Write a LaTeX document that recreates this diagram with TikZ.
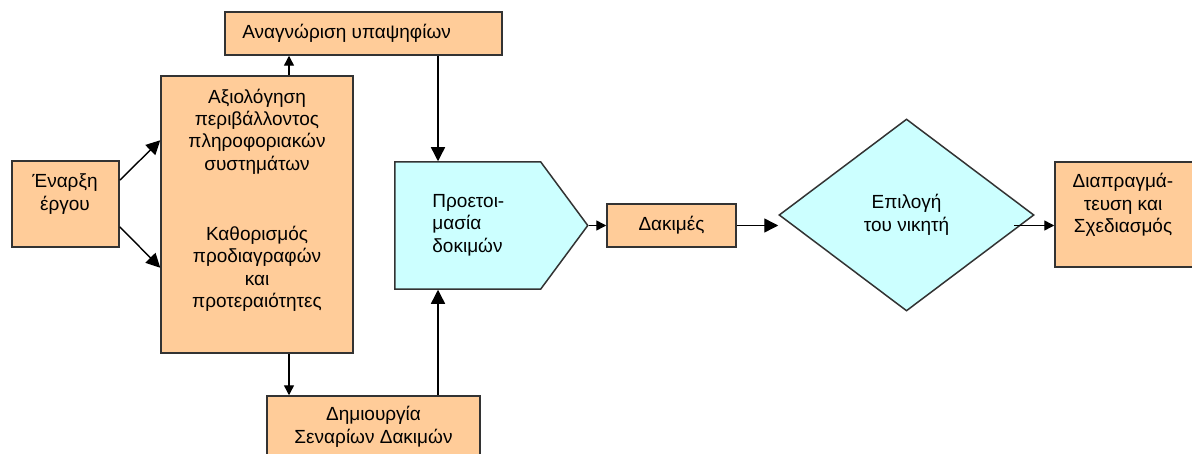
\documentclass[tikz,border=0pt]{standalone}
\usepackage{fontspec}
\setmainfont{Liberation Sans}
\usetikzlibrary{arrows.meta,calc,positioning,shapes.geometric,shapes.symbols}
\definecolor{peach}{HTML}{FFCC99}
\definecolor{aqua}{HTML}{CCFFFF}
\definecolor{edge}{HTML}{333333}
\newcommand\boxfont{\fontsize{9.5}{11.2}\selectfont}

\begin{document}
\begin{tikzpicture}[
    x=0.5pt, y=-0.5pt,
    every node/.style={font=\boxfont},
    stagebox/.style={rectangle, draw=edge, fill=peach, line width=0.75pt, inner sep=0pt, align=center},
    testbox/.style={draw=edge, fill=aqua, line width=0.75pt, inner sep=0pt, align=center},
    boxtext/.style={inner sep=0pt, align=center},
    arr/.style={-{Triangle[length=5pt,width=5pt]}, line width=0.7pt, draw=black},
    bigarr/.style={-{Triangle[length=7pt,width=7pt]}, line width=0.7pt, draw=black}
]

% Page frame
\useasboundingbox[fill=white] (0,0) rectangle (1192,454);

% Boxes
\node[stagebox, minimum width=53.5pt, minimum height=43pt] (start) at (65.5,204) {};
\node[stagebox, minimum width=96pt, minimum height=138.5pt] (assess) at (257,214.5) {};
\node[stagebox, minimum width=138.5pt, minimum height=21.5pt] (cand) at (363.5,33.5) {};
\node[stagebox, minimum width=106.5pt, minimum height=31pt] (scen) at (373.5,427)
  {Δημιουργία\\Σεναρίων Δακιμών};
\node[testbox, signal, signal to=east, signal pointer angle=107,
      minimum width=96.5pt, minimum height=63.5pt, anchor=west] (prep) at (394,225.5) {};
\node[stagebox, minimum width=64.5pt, minimum height=21.5pt] (tests) at (671.5,225.5) {Δακιμές};
\node[testbox, diamond, minimum width=127.5pt, minimum height=96pt] (win) at (906.5,215)
  {Επιλογή\\του νικητή};
\node[stagebox, minimum width=69.5pt, minimum height=52.5pt] (nego) at (1124.5,214.5) {};

% Texts placed off centre
\node[boxtext] (starttext) at (65,194) {Έναρξη\\έργου};
\node[boxtext] (assesstop) at (257,131.5) {Αξιολόγηση\\περιβάλλοντος\\πληροφοριακών\\συστημάτων};
\node[boxtext] (assessbot) at (257,269) {Καθορισμός\\προδιαγραφών\\και\\προτεραιότητες};
\node[boxtext, anchor=west] (candtext) at (242,33) {Αναγνώριση υπαψηφίων};
\node[boxtext, align=left, anchor=west] (preptext) at (432,225) {Προετοι-\\μασία\\δοκιμών};
\node[boxtext] (negotext) at (1123,205) {Διαπραγμά-\\τευση και\\Σχεδιασμός};

% Connectors
\coordinate (xl) at (289,0);
\coordinate (xr) at (438,0);
\draw[bigarr] ($(start.north east)+(0,20)$) -- ($(assess.north west)+(0,65)$);
\draw[bigarr] ($(start.south east)+(0,-21)$) -- ($(assess.south west)+(0,-86)$);
\draw[arr] (assess.north -| xl) -- (cand.south -| xl);
\draw[arr] (assess.south -| xl) -- (scen.north -| xl);
\draw[bigarr] (cand.south -| xr) -- (prep.north -| xr);
\draw[bigarr] (scen.north -| xr) -- (prep.south -| xr);
\draw[arr] (prep.east) -- (tests.west);
\draw[bigarr] (tests.east) -- (tests.east -| win.west);
\draw[arr] ($(win.east |- tests.east)+(-21,0)$) -- (nego.west |- tests.east);

\end{tikzpicture}
\end{document}
